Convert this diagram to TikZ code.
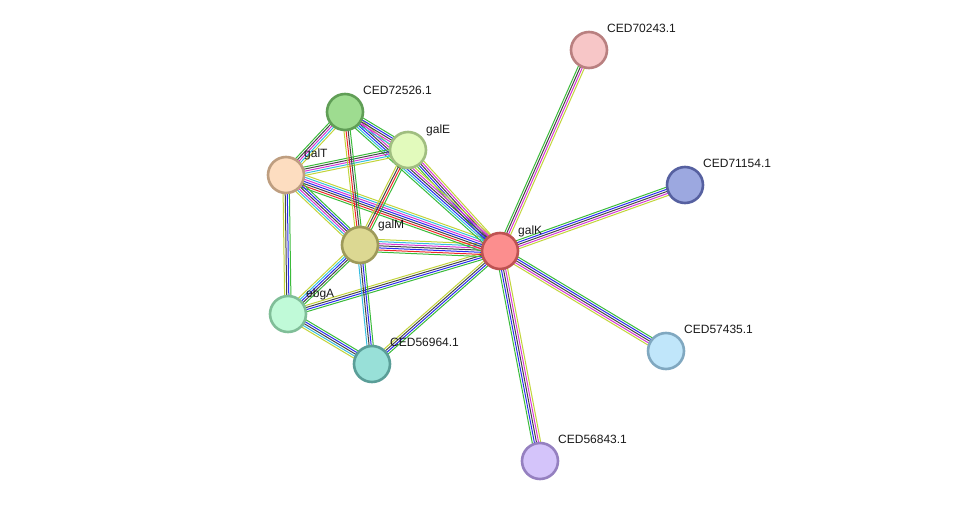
\documentclass[tikz,border=0pt]{standalone}
\usepackage{fontspec}
\setmainfont{Liberation Sans}
\usetikzlibrary{calc,backgrounds}
\definecolor{eg}{HTML}{3ABB3A}
\definecolor{er}{HTML}{F02828}
\definecolor{eb}{HTML}{2A2AF0}
\definecolor{ek}{HTML}{454545}
\definecolor{em}{HTML}{D535D5}
\definecolor{ec}{HTML}{35BDE0}
\definecolor{ey}{HTML}{C2D43A}
\tikzset{
  prot/.style={circle, minimum size=36pt, inner sep=0pt, line width=2.6pt},
  lab/.style={anchor=base west, font=\fontsize{12pt}{12pt}\selectfont, inner sep=0pt, text=black!90}
}
\newcommand\sedge[3]{%
  \foreach \c [count=\n] in {#3} {\xdef\nn{\n}}%
  \foreach \c [count=\i] in {#3} {%
    \pgfmathsetmacro\off{((\nn+1)/2-\i)*2.1}%
    \draw[\c, line width=1pt] ($(#1.center)!\off pt!90:(#2.center)$) -- ($(#2.center)!\off pt!-90:(#1.center)$);
  }%
}
\begin{document}
\begin{tikzpicture}[x=1pt,y=-1pt]
\useasboundingbox (0,0) rectangle (975,506);
\node[prot, fill={rgb,255:red,247;green,198;blue,199}, draw={rgb,255:red,185;green,128;blue,128}] (n70243) at (589,50) {};
\node[prot, fill={rgb,255:red,158;green,220;blue,144}, draw={rgb,255:red,96;green,158;blue,86}] (n72526) at (345,112) {};
\node[prot, fill={rgb,255:red,226;green,250;blue,188}, draw={rgb,255:red,160;green,190;blue,128}] (galE) at (408,150) {};
\node[prot, fill={rgb,255:red,253;green,221;blue,192}, draw={rgb,255:red,190;green,158;blue,128}] (galT) at (286,175) {};
\node[prot, fill={rgb,255:red,220;green,216;blue,146}, draw={rgb,255:red,158;green,154;blue,90}] (galM) at (360,245) {};
\node[prot, fill={rgb,255:red,252;green,142;blue,142}, draw={rgb,255:red,190;green,82;blue,82}] (galK) at (500,251) {};
\node[prot, fill={rgb,255:red,156;green,168;blue,224}, draw={rgb,255:red,86;green,96;blue,160}] (n71154) at (685,185) {};
\node[prot, fill={rgb,255:red,192;green,250;blue,216}, draw={rgb,255:red,128;green,190;blue,152}] (ebgA) at (288,314) {};
\node[prot, fill={rgb,255:red,152;green,224;blue,216}, draw={rgb,255:red,90;green,158;blue,152}] (n56964) at (372,364) {};
\node[prot, fill={rgb,255:red,192;green,230;blue,250}, draw={rgb,255:red,128;green,168;blue,192}] (n57435) at (666,351) {};
\node[prot, fill={rgb,255:red,212;green,196;blue,250}, draw={rgb,255:red,149;green,128;blue,192}] (n56843) at (540,461) {};
\begin{pgfonlayer}{background}
\sedge{galK}{n70243}{eg,ek,em,ey}
\sedge{galK}{n71154}{eg,eb,ek,em,ey}
\sedge{galK}{n57435}{eg,eb,ek,em,ey}
\sedge{n56843}{galK}{eg,eb,ek,em,ey}
\sedge{galK}{n56964}{eg,eb,ek,ey}
\sedge{galK}{ebgA}{eg,eb,ek,ey}
\sedge{galK}{galM}{eg,er,eb,ek,em,ec,ey}
\sedge{galK}{galT}{eg,er,ek,eb,em,ec,ey}
\sedge{galK}{galE}{eg,eb,ek,em,ey}
\sedge{galK}{n72526}{eg,ec,eb,ek,em,ey}
\sedge{galT}{n72526}{eg,ek,em,ec,ey}
\sedge{galT}{galE}{eg,ek,em,ec,ey}
\sedge{galT}{galM}{eg,eb,ek,em,ec,ey}
\sedge{galT}{ebgA}{eg,eb,ek,ey}
\sedge{n72526}{galE}{eg,eb,ek,em,ec}
\sedge{n72526}{galM}{eg,ek,er,ey}
\sedge{galE}{galM}{eg,er,ek,ey}
\sedge{galM}{ebgA}{eg,ek,eb,ec,ey}
\sedge{galM}{n56964}{eg,eb,ek,ec}
\sedge{ebgA}{n56964}{eg,eb,ek,ec,ey}
\end{pgfonlayer}
\node[lab] (l70243) at (607,32) {CED70243.1};
\node[lab] (l72526) at (363,94) {CED72526.1};
\node[lab] (lgalE) at (426,133) {galE};
\node[lab] (lgalT) at (304,157) {galT};
\node[lab] (lgalM) at (378,228) {galM};
\node[lab] (lgalK) at (518,234) {galK};
\node[lab] (l71154) at (703,167) {CED71154.1};
\node[lab] (lebgA) at (306,297) {ebgA};
\node[lab] (l56964) at (390,346) {CED56964.1};
\node[lab] (l57435) at (684,333) {CED57435.1};
\node[lab] (l56843) at (558,443) {CED56843.1};
\end{tikzpicture}
\end{document}
